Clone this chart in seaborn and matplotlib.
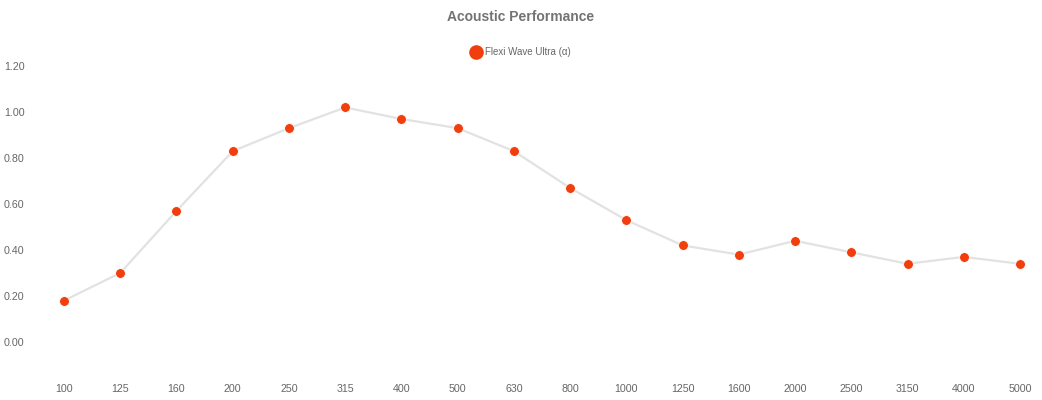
import matplotlib
matplotlib.use("Agg")
import matplotlib.pyplot as plt
import pandas as pd
import seaborn as sns
from matplotlib.lines import Line2D

# Frequências (Hz) e coeficiente de absorção
frequencias = ["100", "125", "160", "200", "250", "315", "400", "500", "630",
               "800", "1000", "1250", "1600", "2000", "2500", "3150", "4000", "5000"]
alpha = [0.18, 0.30, 0.57, 0.83, 0.93, 1.02, 0.97, 0.93, 0.83,
         0.67, 0.53, 0.42, 0.38, 0.44, 0.39, 0.34, 0.37, 0.34]
y_ticks = [0.0, 0.2, 0.4, 0.6, 0.8, 1.0, 1.2]

SERIE = "Flexi Wave Ultra (α)"
COR = "#f23d0c"
LINHA = "#e2e2e2"
TEXTO = "#666666"

sns.set_theme(style="white")
plt.rcParams["font.family"] = ["Liberation Sans", "DejaVu Sans"]

df = pd.DataFrame({"freq": frequencias, "alpha": alpha})
df["pos"] = range(len(df))

fig = plt.figure(figsize=(10.42, 4.0), dpi=100)
ax = fig.add_axes([40 / 1042, 30 / 400, 1000 / 1042, 320 / 400])

sns.lineplot(data=df, x="pos", y="alpha", color=LINHA, linewidth=1.6, ax=ax, zorder=1)
sns.scatterplot(data=df, x="pos", y="alpha", color=COR, s=50, edgecolor="white",
                linewidth=0.6, ax=ax, zorder=2)

ax.set_xlim(-0.427, 17.356)
ax.set_ylim(-0.122, 1.27)
ax.set_xticks(df["pos"])
ax.set_xticklabels(frequencias)
ax.set_yticks(y_ticks)
ax.set_yticklabels([f"{v:.2f}" for v in y_ticks])
ax.tick_params(axis="both", labelsize=7.7, colors=TEXTO, length=0)
ax.tick_params(axis="y", pad=11)
ax.tick_params(axis="x", pad=10)
ax.set_xlabel("")
ax.set_ylabel("")
ax.grid(False)
sns.despine(ax=ax, left=True, bottom=True)

fig.text(0.5, 1 - 17 / 400, "Acoustic Performance", ha="center", va="center",
         fontsize=10, fontweight="bold", color="#737373")

handle = Line2D([], [], marker="o", linestyle="", markersize=9.5,
                markerfacecolor=COR, markeredgecolor=COR)
fig.legend([handle], [SERIE], loc="center", bbox_to_anchor=(0.5, 1 - 52 / 400),
           frameon=False, fontsize=7, labelcolor=TEXTO, handletextpad=0.5,
           borderaxespad=0, handlelength=1.0)

fig.savefig("out.png", dpi=100)
